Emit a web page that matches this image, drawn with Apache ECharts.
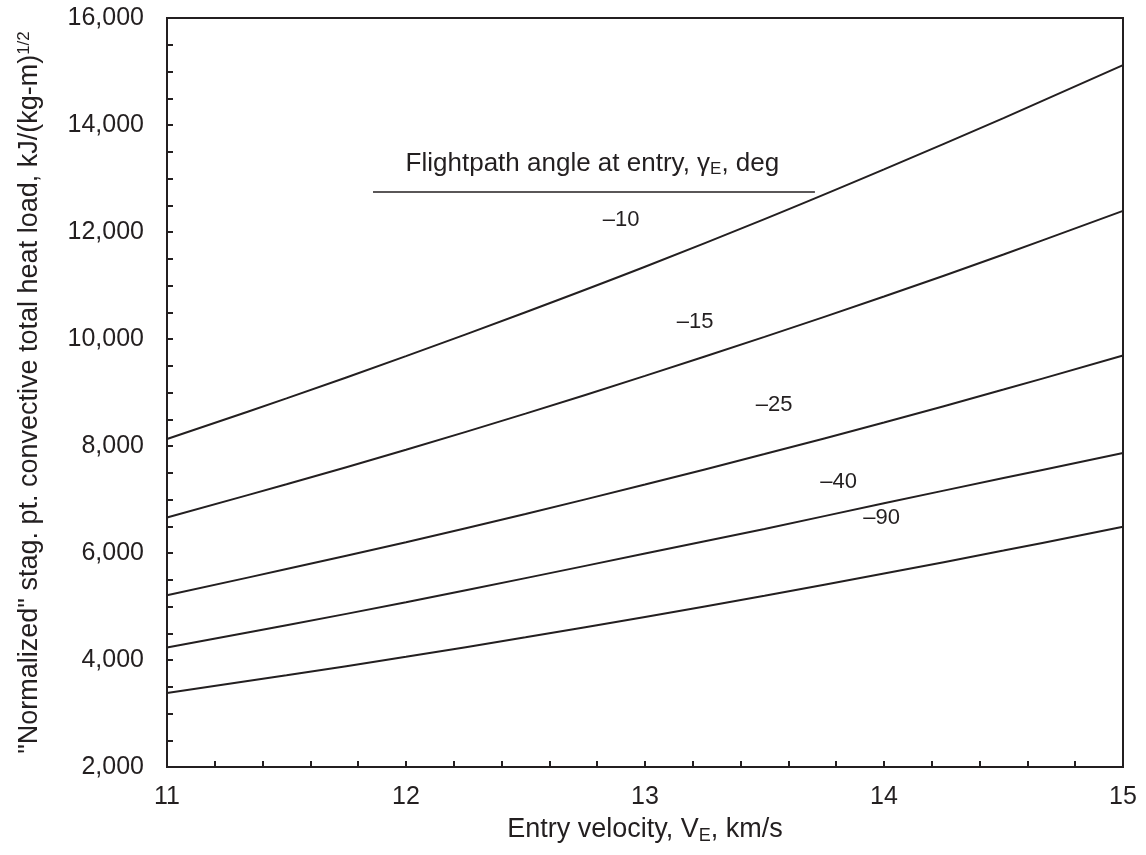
<!DOCTYPE html>
<html>
<head>
<meta charset="utf-8">
<script src="https://cdn.jsdelivr.net/npm/echarts@6/dist/echarts.min.js"></script>
<style>
html,body{margin:0;padding:0;background:#ffffff;}
#chart{width:1146px;height:855px;}
</style>
</head>
<body>
<div id="chart"></div>
<script>
// Entry velocity, km/s
const velocity = [11, 11.5, 12, 12.5, 13, 13.5, 14, 14.5, 15];
// Normalized stagnation-point convective total heat load, per flightpath angle
const gamma10 = [8130, 8890, 9680, 10500, 11350, 12240, 13170, 14130, 15120];
const gamma15 = [6665, 7285, 7930, 8605, 9310, 10040, 10795, 11580, 12395];
const gamma25 = [5210, 5700, 6200, 6730, 7280, 7850, 8440, 9055, 9690];
const gamma40 = [4235, 4650, 5080, 5530, 5990, 6450, 6930, 7400, 7870];
const gamma90 = [3385, 3715, 4060, 4425, 4805, 5200, 5615, 6045, 6490];

const curveNames = ['–10', '–15', '–25', '–40', '–90'];
// curve label anchor positions (data coordinates)
const labelVel = [12.90, 13.21, 13.54, 13.81, 13.99];
const labelLoad = [12230, 10320, 8770, 7330, 6650];

// legend heading and its rule (data coordinates)
const legendTitleAt = [12.78, 13280];
const legendRuleVel = [11.862, 13.711];
const legendRuleLoad = 12750;

const xMin = 11, xMax = 15, xStep = 1;
const yMin = 2000, yMax = 16000, yStep = 2000;

const ink = '#231f20';
const font = '"Liberation Sans", Arial, Helvetica, sans-serif';

function pairs(xs, ys) { return xs.map((x, i) => [x, ys[i]]); }

const curves = [gamma10, gamma15, gamma25, gamma40, gamma90].map((ys, i) => ({
  name: curveNames[i],
  type: 'line',
  data: pairs(velocity, ys),
  smooth: 0.4,
  symbol: 'none',
  silent: true,
  lineStyle: { color: ink, width: 2 }
}));

const chart = echarts.init(document.getElementById('chart'), null, { renderer: 'canvas' });

chart.setOption({
  animation: false,
  backgroundColor: '#ffffff',
  textStyle: { fontFamily: font, color: ink },
  grid: {
    left: 167, right: 23, top: 18, bottom: 88,
    show: true, borderColor: ink, borderWidth: 2, backgroundColor: 'transparent'
  },
  xAxis: {
    type: 'value', min: xMin, max: xMax, interval: xStep,
    axisLine: { show: true, onZero: false, lineStyle: { color: ink, width: 2 } },
    axisTick: { show: true, inside: true, length: 6, lineStyle: { color: ink, width: 2 } },
    minorTick: { show: true, splitNumber: 5, length: 6, lineStyle: { color: ink, width: 2 } },
    splitLine: { show: false },
    axisLabel: { margin: 18, fontSize: 25, color: ink, fontFamily: font },
    name: '{a|Entry velocity, V}{sub|E}{a|, km/s}',
    nameLocation: 'middle',
    nameGap: 45,
    nameTextStyle: {
      fontFamily: font, color: ink,
      rich: {
        a: { fontSize: 27, fontFamily: font, color: ink, lineHeight: 30 },
        sub: { fontSize: 18, fontFamily: font, color: ink, lineHeight: 30, padding: [12, 0, 0, 0] }
      }
    }
  },
  yAxis: {
    type: 'value', min: yMin, max: yMax, interval: yStep,
    axisLine: { show: true, onZero: false, lineStyle: { color: ink, width: 2 } },
    axisTick: { show: true, inside: true, length: 6, lineStyle: { color: ink, width: 2 } },
    minorTick: { show: true, splitNumber: 4, length: 6, lineStyle: { color: ink, width: 2 } },
    splitLine: { show: false },
    axisLabel: {
      margin: 23, fontSize: 25, color: ink, fontFamily: font,
      formatter: v => v.toLocaleString('en-US')
    },
    name: '{a|"Normalized" stag. pt. convective total heat load, kJ/(kg-m)}{sup|1/2}',
    nameLocation: 'middle',
    nameRotate: 90,
    nameGap: 122,
    nameTextStyle: {
      fontFamily: font, color: ink,
      rich: {
        a: { fontSize: 27, fontFamily: font, color: ink, lineHeight: 30 },
        sup: { fontSize: 17, fontFamily: font, color: ink, lineHeight: 30, padding: [0, 0, 12, 0] }
      }
    }
  },
  series: curves.concat([
    {
      name: 'legendRule',
      type: 'line',
      data: legendRuleVel.map(v => [v, legendRuleLoad]),
      symbol: 'none',
      silent: true,
      lineStyle: { color: ink, width: 1.5 }
    },
    {
      name: 'legendTitle',
      type: 'scatter',
      symbolSize: 0,
      silent: true,
      itemStyle: { opacity: 1 },
      data: [{ value: legendTitleAt, name: 'title' }],
      label: {
        show: true, position: 'inside',
        formatter: '{a|Flightpath angle at entry, γ}{sub|E}{a|, deg}',
        rich: {
          a: { fontSize: 26, fontFamily: font, color: ink, lineHeight: 30 },
          sub: { fontSize: 17, fontFamily: font, color: ink, lineHeight: 30, padding: [12, 0, 0, 0] }
        }
      }
    },
    {
      name: 'curveLabels',
      type: 'scatter',
      symbolSize: 0,
      silent: true,
      itemStyle: { opacity: 1 },
      data: curveNames.map((n, i) => ({ value: [labelVel[i], labelLoad[i]], name: n })),
      label: {
        show: true, position: 'inside', formatter: '{b}',
        fontSize: 22, fontFamily: font, color: ink
      }
    }
  ])
});
</script>
</body>
</html>
